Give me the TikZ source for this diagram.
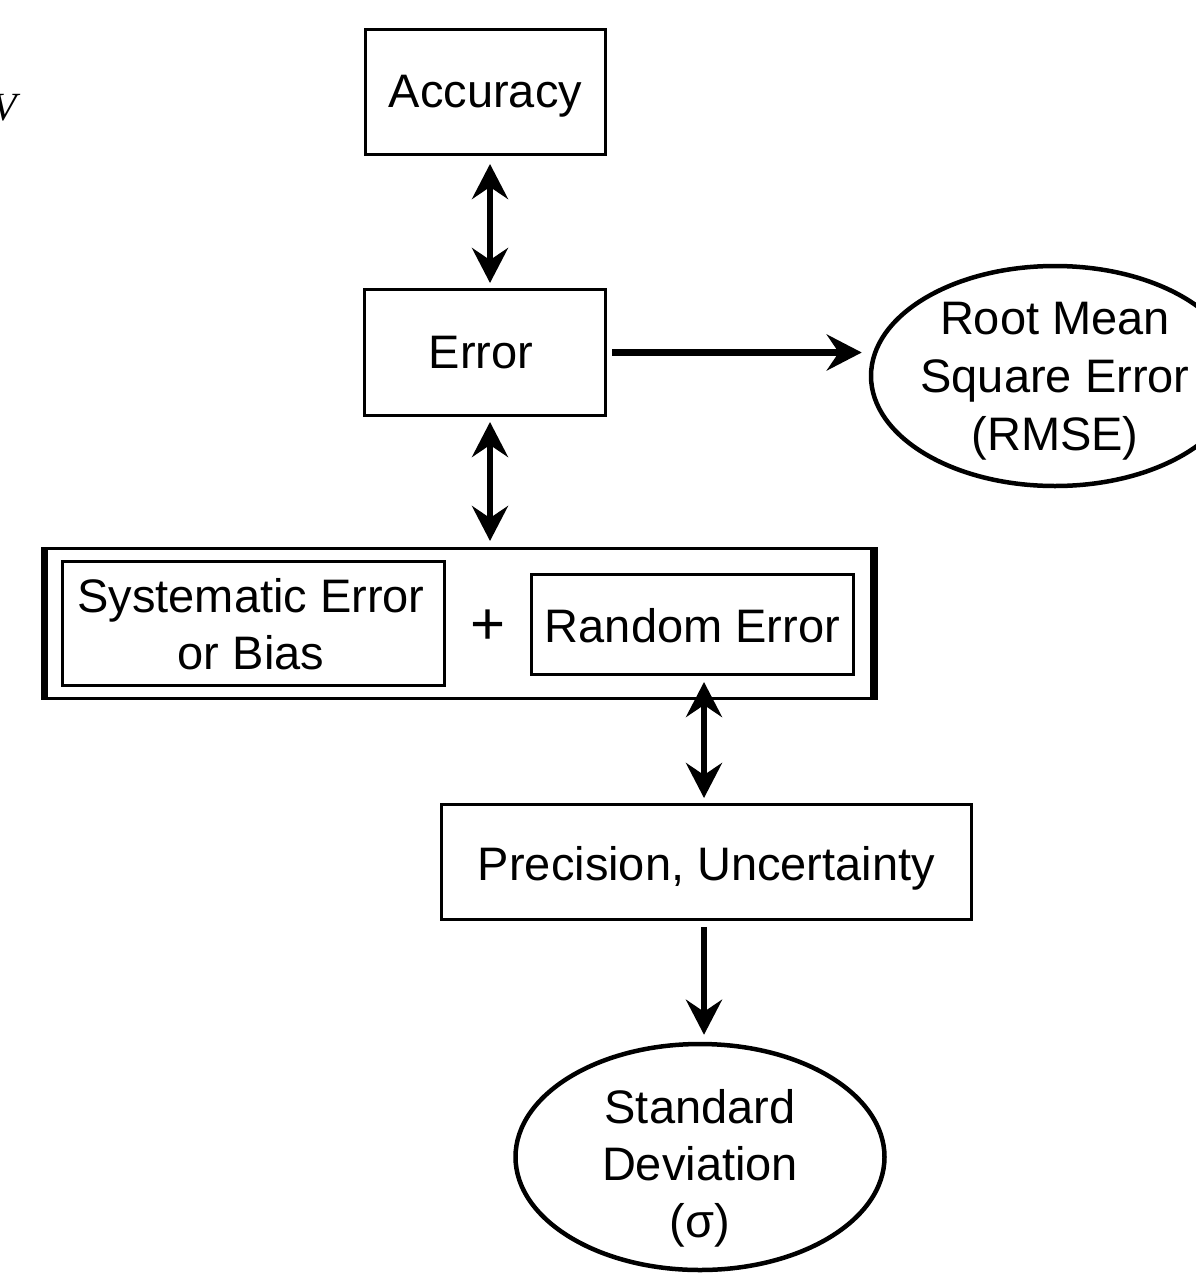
\documentclass[tikz,border=0pt]{standalone}
\usepackage{fontspec}
\setmainfont{Liberation Sans}
\newfontfamily\serifface{Liberation Serif}
\usetikzlibrary{arrows.meta,shapes.geometric}

\tikzset{tipshape/.tip={Stealth[length=35pt, width=36pt, inset=12pt]}}

\begin{document}
\begin{tikzpicture}[x=1pt, y=-1pt,
  label font/.style={font=\fontsize{47}{57}\selectfont},
  frame/.style={draw, line width=3pt, rectangle, inner sep=0pt},
  oval/.style={draw, line width=4.5pt, ellipse, inner sep=0pt},
  txt/.style={inner sep=0pt, align=center, label font},
  oneway/.style={line width=6.5pt, -{tipshape}},
  twoway/.style={line width=5.5pt, {tipshape}-{tipshape}}
]
\useasboundingbox (0,0) rectangle (1196,1274);

% partial italic letter at the left edge
\node[inner sep=0pt, anchor=base east, font=\serifface\itshape\fontsize{40}{40}\selectfont] (vmark) at (17,120) {V};

% boxes
\node[frame, minimum width=240, minimum height=125] (acc) at (485.5,92) {};
\node[txt] (acctext) at (485.5,96) {Accuracy};
\node[frame, minimum width=241, minimum height=126] (err) at (485,352.5) {};
\node[txt] (errtext) at (481,353) {Error};

% combined error group
\node[frame, minimum width=826, minimum height=150] (outer) at (459,623.5) {};
\draw[line width=7pt] (outer.north west) -- (outer.south west);
\draw[line width=8pt] (outer.north east) -- (outer.south east);
\node[frame, minimum width=382, minimum height=124] (sys) at (253.5,623.5) {};
\node[txt] (systext) at (251,624) {Systematic Error\\or Bias};
\node[txt, font=\fontsize{60}{60}\selectfont] (plus) at (488,627) {+};
\node[frame, minimum width=322, minimum height=100] (rnd) at (692.5,624.5) {};
\node[txt] (rndtext) at (692.5,626) {Random Error};

\node[frame, minimum width=530, minimum height=115] (prec) at (706.5,862) {};
\node[txt] (prectext) at (706.5,868) {Precision, Uncertainty};

% ellipses
\node[oval, minimum width=368, minimum height=220] (rmse) at (1055,376) {};
\node[txt, font=\fontsize{47}{58}\selectfont] (rmsetext) at (1055,381) {Root Mean\\Square Error\\(RMSE)};
\node[oval, minimum width=369, minimum height=226] (sd) at (700,1157) {};
\node[txt] (sdtext) at (700,1168) {Standard\\Deviation\\(σ)};

% connectors
\draw[twoway, shorten <=8pt, shorten >=5pt] ([xshift=4.5pt]acc.south) -- ([xshift=5pt]err.north);
\draw[twoway, shorten <=5pt, shorten >=6pt] ([xshift=5pt]err.south) -- ([xshift=31pt]outer.north);
\draw[oneway, shorten <=5pt, shorten >=7pt] (err.east) -- (rmse.west |- err.east);
\draw[twoway, shorten <=6pt, shorten >=5pt] ([xshift=11.5pt]rnd.south) -- ([xshift=-2.5pt]prec.north);
\draw[oneway, shorten <=6pt, shorten >=7pt] ([xshift=-2.5pt]prec.south) -- ([xshift=4pt]sd.north);
\end{tikzpicture}
\end{document}
